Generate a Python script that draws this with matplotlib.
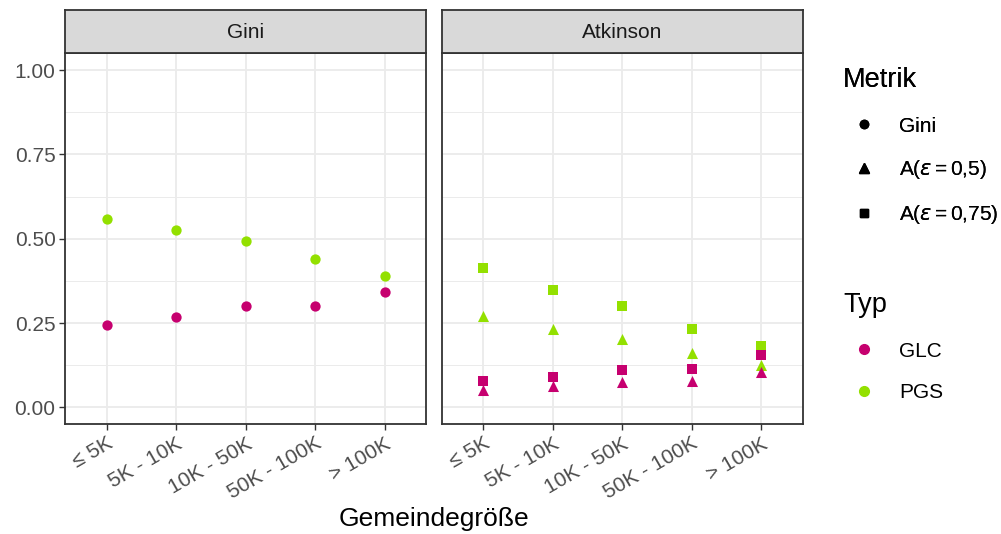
import matplotlib
matplotlib.use("Agg")
import matplotlib.pyplot as plt
from matplotlib.lines import Line2D
from matplotlib.ticker import MultipleLocator

plt.rcParams['font.family'] = ['Liberation Sans', 'DejaVu Sans']
plt.rcParams['mathtext.fontset'] = 'dejavusans'

categories = ["≤ 5K", "5K - 10K", "10K - 50K", "50K - 100K", "> 100K"]
panels = ["Gini", "Atkinson"]

gini_glc = [0.245, 0.269, 0.302, 0.302, 0.341]
gini_pgs = [0.559, 0.525, 0.493, 0.440, 0.391]
atk05_glc = [0.053, 0.063, 0.076, 0.077, 0.104]
atk05_pgs = [0.270, 0.233, 0.203, 0.160, 0.127]
atk075_glc = [0.078, 0.090, 0.110, 0.113, 0.155]
atk075_pgs = [0.414, 0.347, 0.300, 0.231, 0.181]

col_glc = "#C6006F"
col_pgs = "#93E000"

W, H = 1001, 534
fig = plt.figure(figsize=(W / 100, H / 100), dpi=100)

def fx(px):
    return px / W

def fy(py):
    return 1 - py / H

small = 15
big = 19.5

panel_left = [65.3, 441.7]
pw = 361
ptop, pbot = 52.5, 424.3
strip_top = 9.7

axes = []
for i, name in enumerate(panels):
    ax = fig.add_axes([fx(panel_left[i]), fy(pbot), pw / W, (pbot - ptop) / H])
    axes.append(ax)
    ax.set_xlim(0.4, 5.6)
    ax.set_ylim(-0.050, 1.052)
    ax.set_xticks(range(1, 6))
    ax.set_xticklabels(categories, rotation=30, ha='right', rotation_mode='anchor',
                       fontsize=small, color='#4D4D4D')
    ax.yaxis.set_minor_locator(MultipleLocator(0.125))
    ax.set_yticks([0, 0.25, 0.5, 0.75, 1.0])
    ax.set_yticklabels(["0.00", "0.25", "0.50", "0.75", "1.00"], fontsize=small, color='#4D4D4D')
    ax.grid(True, which='major', color='#EBEBEB', linewidth=1.3, zorder=0)
    ax.grid(True, which='minor', axis='y', color='#EBEBEB', linewidth=0.7, zorder=0)
    ax.tick_params(axis='both', which='major', length=4, width=1.0, color='#333333', pad=3)
    ax.tick_params(axis='y', which='minor', length=0)
    for s in ax.spines.values():
        s.set_color('#333333')
        s.set_linewidth(1.3)
    ax.set_axisbelow(True)
    if i == 1:
        ax.tick_params(axis='y', which='both', left=False, labelleft=False)
    sax = fig.add_axes([fx(panel_left[i]), fy(ptop), pw / W, (ptop - strip_top) / H])
    sax.set_xticks([]); sax.set_yticks([])
    sax.set_facecolor('#D9D9D9')
    for s in sax.spines.values():
        s.set_color('#333333')
        s.set_linewidth(1.3)
    sax.text(0.5, 0.47, name, ha='center', va='center', fontsize=small, color='#1A1A1A',
             transform=sax.transAxes)

x = list(range(1, 6))
ms = 55
ax0, ax1 = axes
ax0.scatter(x, gini_glc, s=ms, marker='o', color=col_glc, linewidths=0, zorder=3)
ax0.scatter(x, gini_pgs, s=ms, marker='o', color=col_pgs, linewidths=0, zorder=3)
ax1.scatter(x, atk075_pgs, s=ms, marker='s', color=col_pgs, linewidths=0, zorder=3)
ax1.scatter(x, atk05_pgs, s=ms * 1.15, marker='^', color=col_pgs, linewidths=0, zorder=3)
ax1.scatter(x, atk075_glc, s=ms, marker='s', color=col_glc, linewidths=0, zorder=3)
ax1.scatter(x, atk05_glc, s=ms * 1.15, marker='^', color=col_glc, linewidths=0, zorder=3)

fig.text(fx((panel_left[0] + panel_left[1] + pw) / 2), fy(519), "Gemeindegröße",
         ha='center', va='center', fontsize=19, color='black')

metrik_handles = [
    Line2D([], [], marker='o', color='black', linestyle='None', markersize=6),
    Line2D([], [], marker='^', color='black', linestyle='None', markersize=7),
    Line2D([], [], marker='s', color='black', linestyle='None', markersize=6),
]
metrik_labels = ["Gini", r"A($\epsilon\,$=$\,$0,5)", r"A($\epsilon\,$=$\,$0,75)"]
typ_handles = [
    Line2D([], [], marker='o', color=col_glc, linestyle='None', markersize=7),
    Line2D([], [], marker='o', color=col_pgs, linestyle='None', markersize=7),
]
typ_labels = ["GLC", "PGS"]

common = dict(loc='upper left', frameon=False, fontsize=small, title_fontsize=big,
              labelspacing=1.07, handletextpad=0.7, handlelength=2.0, borderpad=0,
              borderaxespad=0)
leg1 = fig.legend(metrik_handles, metrik_labels, title="Metrik",
                  bbox_to_anchor=(fx(843), fy(67)), **common)
leg1._legend_box.align = "left"
leg1._legend_box.sep = 17
leg2 = fig.legend(typ_handles, typ_labels, title="Typ",
                  bbox_to_anchor=(fx(843), fy(292)), **common)
leg2._legend_box.align = "left"
leg2._legend_box.sep = 17
fig.add_artist(leg1)

fig.savefig("out.png", dpi=100)
